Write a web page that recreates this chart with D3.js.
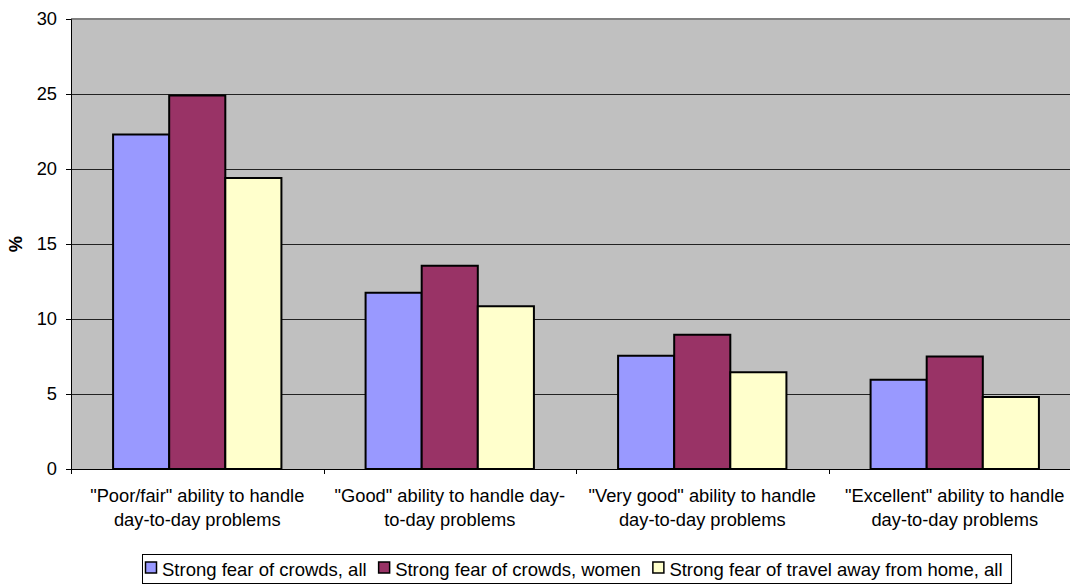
<!DOCTYPE html>
<html>
<head>
<meta charset="utf-8">
<script src="https://cdn.jsdelivr.net/npm/d3@7"></script>
<style>
  html, body { margin: 0; padding: 0; background: #fff; }
  svg { display: block; font-family: "Liberation Sans", Arial, sans-serif; }
</style>
</head>
<body>
<svg id="chart" width="1070" height="584"></svg>
<script>
// Categories (two-line labels) and series
const categories = [
  ["\"Poor/fair\" ability to handle", "day-to-day problems"],
  ["\"Good\" ability to handle day-", "to-day problems"],
  ["\"Very good\" ability to handle", "day-to-day problems"],
  ["\"Excellent\" ability to handle", "day-to-day problems"]
];
const seriesNames = [
  "Strong fear of crowds, all",
  "Strong fear of crowds, women",
  "Strong fear of travel away from home, all"
];
const crowdsAll   = [22.3, 11.75, 7.55, 5.95];
const crowdsWomen = [24.9, 13.55, 8.95, 7.5];
const travelAll   = [19.4, 10.85, 6.45, 4.8];
const seriesColors = ["#9999FF", "#993366", "#FFFFCC"];
const yTicks = [0, 5, 10, 15, 20, 25, 30];

const seriesValues = [crowdsAll, crowdsWomen, travelAll];
const FS = 18.3;

const svg = d3.select("#chart");
const plot = { left: 71, top: 19, bottom: 469, right: 1081 };

const x0 = d3.scaleBand()
  .domain(d3.range(categories.length))
  .range([plot.left, plot.right])
  .padding(0);
const bw = x0.bandwidth() / 4.5;      // three bars plus a 150% gap
const x1 = d3.scaleBand()
  .domain(d3.range(seriesNames.length))
  .range([bw * 0.75, x0.bandwidth() - bw * 0.75])
  .padding(0);
const y = d3.scaleLinear().domain([0, 30]).range([plot.bottom, plot.top]);

// plot background
svg.append("rect")
  .attr("x", plot.left).attr("y", plot.top)
  .attr("width", plot.right - plot.left).attr("height", plot.bottom - plot.top)
  .attr("fill", "#C0C0C0");

// top border of the plot area
svg.append("line")
  .attr("x1", plot.left).attr("x2", plot.right)
  .attr("y1", plot.top).attr("y2", plot.top)
  .attr("stroke", "#808080").attr("stroke-width", 2);

// gridlines
svg.append("g")
  .selectAll("line")
  .data(yTicks.filter(t => t > 0 && t < 30))
  .join("line")
  .attr("x1", plot.left).attr("x2", plot.right)
  .attr("y1", d => Math.round(y(d)) + 0.5).attr("y2", d => Math.round(y(d)) + 0.5)
  .attr("stroke", "#222").attr("stroke-width", 1);

// bars
const groups = svg.append("g")
  .selectAll("g")
  .data(categories.map((c, i) => i))
  .join("g")
  .attr("transform", i => `translate(${x0(i)},0)`);

groups.selectAll("rect")
  .data(i => seriesValues.map((vals, s) => ({ s, v: vals[i] })))
  .join("rect")
  .attr("x", d => x1(d.s))
  .attr("y", d => y(d.v))
  .attr("width", x1.bandwidth())
  .attr("height", d => y(0) - y(d.v))
  .attr("fill", d => seriesColors[d.s])
  .attr("stroke", "#000")
  .attr("stroke-width", 2);

// y axis
const yAxis = d3.axisLeft(y).tickValues(yTicks).tickSize(5).tickPadding(9);
const gy = svg.append("g")
  .attr("transform", `translate(${plot.left},0)`)
  .call(yAxis);
gy.select(".domain").attr("stroke", "#000");
gy.selectAll(".tick line").attr("stroke", "#000");
gy.selectAll(".tick text")
  .attr("font-size", FS).attr("fill", "#000")
  .attr("font-family", "Liberation Sans, Arial, sans-serif");

// x axis baseline and category ticks
const gx = svg.append("g")
  .attr("transform", `translate(0,${plot.bottom})`);
gx.append("line")
  .attr("x1", plot.left - 5).attr("x2", plot.right)
  .attr("y1", 0.5).attr("y2", 0.5)
  .attr("stroke", "#000");
gx.selectAll("line.tk")
  .data(d3.range(categories.length))
  .join("line")
  .attr("class", "tk")
  .attr("x1", i => Math.round(x0(i)) + 0.5).attr("x2", i => Math.round(x0(i)) + 0.5)
  .attr("y1", 0).attr("y2", 5)
  .attr("stroke", "#000");

// category labels
const lbl = svg.append("g")
  .selectAll("text")
  .data(categories.map((c, i) => ({ c, i })))
  .join("text")
  .attr("text-anchor", "middle")
  .attr("font-size", FS)
  .attr("fill", "#000");
lbl.selectAll("tspan")
  .data(d => d.c.map(line => ({ line, i: d.i })))
  .join("tspan")
  .attr("x", d => x0(d.i) + x0.bandwidth() / 2)
  .attr("y", (d, k) => 502 + k * 24)
  .text(d => d.line);

// y axis title
svg.append("text")
  .attr("transform", `translate(22,${y(15)}) rotate(-90)`)
  .attr("text-anchor", "middle")
  .attr("font-size", FS)
  .attr("font-weight", "bold")
  .text("%");

// legend
const legend = svg.append("g");
const legendBox = legend.append("rect")
  .attr("x", 142.5).attr("y", 554.5)
  .attr("height", 29)
  .attr("fill", "#fff").attr("stroke", "#000");
let lx = 145.5;
seriesNames.forEach((name, s) => {
  legend.append("rect")
    .attr("x", lx).attr("y", 562)
    .attr("width", 11).attr("height", 11)
    .attr("fill", seriesColors[s]).attr("stroke", "#000").attr("stroke-width", 1.5);
  const t = legend.append("text")
    .attr("x", lx + 16.5).attr("y", 576)
    .attr("font-size", 18.5).attr("fill", "#000")
    .text(name);
  lx += 16.5 + t.node().getComputedTextLength() + 12;
});
legendBox.attr("width", lx - 12 + 9 - 142.5);
</script>
</body>
</html>
